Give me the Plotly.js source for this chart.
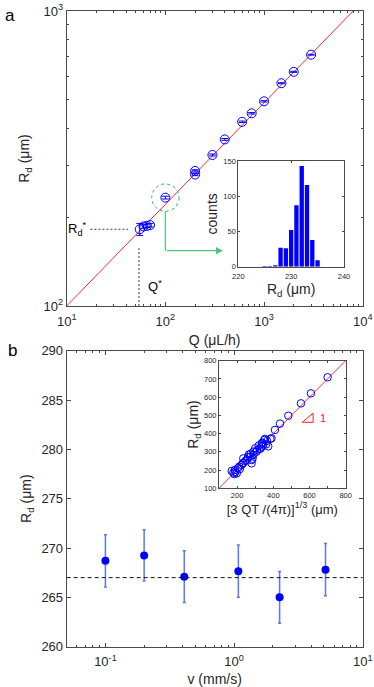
<!DOCTYPE html>
<html>
<head>
<meta charset="utf-8">
<script src="https://cdn.plot.ly/plotly-3.0.1.min.js"></script>
<style>
  body { margin: 0; background: #fff; }
  #chart { width: 374px; height: 687px; }
</style>
</head>
<body>
<div id="chart"></div>
<script>
// panel a: droplet radius vs flow rate
const flowQ = [55, 60, 65, 70, 100, 200, 200, 300, 400, 600, 750, 1000, 1500, 2000, 3000];
const radiusR = [182, 186, 187, 188, 233, 287, 279, 325, 367, 421, 450, 494, 569, 622, 711];
const radiusErr = [8.5, 2.5, 2.5, 2.5, 2.5, 2.5, 2.5, 2.5, 2.5, 2.5, 2.5, 2.5, 2.5, 2.5, 2.5];
const fitQ = [10, 8000];
const fitR = [100, 1000];
const qStar = 54;
const rStar = 182;

// panel a inset: histogram of R_d at Q = 100
const histBins = [225, 226, 227, 228, 229, 230, 231, 232, 233, 234, 235];
const histCounts = [1, 1, 2, 27, 26, 52, 87, 143, 116, 38, 9];

// panel b: R_d vs speed
const speedV = [0.1, 0.2, 0.41, 1.08, 2.26, 5.14];
const speedR = [268.7, 269.25, 267.1, 267.65, 265.0, 267.8];
const speedErr = [2.65, 2.6, 2.63, 2.65, 2.63, 2.65];
const meanR = 267;

// panel b inset: measured R_d vs volume-equivalent radius
const eqX = [700, 608, 553, 483, 437, 409, 384, 354, 360, 336, 323, 308, 290, 271, 253, 231, 212, 188, 179, 198,
  234, 280, 280, 290, 336, 372, 170, 300, 320, 340, 260, 245, 225, 205, 190, 185, 215, 235, 265, 275, 285, 310,
  330, 345, 350, 365, 390];
const eqR = [709, 621, 566, 498, 455, 420, 371, 371, 341, 329, 316, 301, 283, 274, 255, 237, 219, 201, 186, 182,
  264, 255, 237, 301, 347, 330, 195, 320, 335, 350, 270, 250, 228, 210, 190, 178, 205, 240, 285, 290, 262, 310,
  318, 340, 365, 360, 375];
const unitLineX = [100, 800];
const unitLineY = [100, 800];

const ink = '#262626';
const axisCol = '#4a4a4a';
const fontFam = '"Liberation Sans", Arial, sans-serif';

function logMinor(from, to) {
  let vals = [];
  for (let e = from; e < to; e++) {
    for (let k = 2; k <= 9; k++) vals.push(k * Math.pow(10, e));
  }
  return vals;
}

function sup(e) {
  return '10<sup>' + e + '</sup>';
}

function boxAxis(extra) {
  return Object.assign({
    showline: true, linecolor: axisCol, linewidth: 1, mirror: 'ticks',
    ticks: 'inside', ticklen: 4, tickcolor: axisCol, tickwidth: 1,
    showgrid: false, zeroline: false,
    tickfont: { size: 13, color: ink, family: fontFam }
  }, extra);
}

// green highlight ring around the Q = 100 point (radius in px, converted to data)
const ringPx = 13.7;
const ringQ = flowQ[4], ringR = radiusR[4];
const qPerPx = Math.pow(10, ringPx / 98.7);
const rPerPx = Math.pow(10, ringPx / 295);

let traces = [
  {
    x: fitQ, y: fitR, xaxis: 'x', yaxis: 'y', mode: 'lines',
    line: { color: '#ff2a2a', width: 1 }, hoverinfo: 'skip'
  },
  {
    x: flowQ, y: radiusR, xaxis: 'x', yaxis: 'y', mode: 'markers',
    marker: { symbol: 'circle-open', size: 9, color: '#0000ff', line: { width: 1, color: '#0000ff' } },
    error_y: { type: 'data', array: radiusErr, color: '#0000ff', thickness: 1, width: 3.5 }
  },
  {
    x: histBins, y: histCounts, xaxis: 'x2', yaxis: 'y2', type: 'bar',
    marker: { color: '#0000ff', line: { width: 0 } }
  },
  {
    x: speedV, y: speedR, xaxis: 'x3', yaxis: 'y3', mode: 'markers',
    marker: { symbol: 'circle', size: 8, color: '#0000ff' },
    error_y: { type: 'data', array: speedErr, color: 'rgba(40,70,255,0.75)', thickness: 1.5, width: 1.5 }
  },
  {
    x: unitLineX, y: unitLineY, xaxis: 'x4', yaxis: 'y4', mode: 'lines',
    line: { color: '#ff2a2a', width: 1 }, hoverinfo: 'skip'
  },
  {
    x: eqX, y: eqR, xaxis: 'x4', yaxis: 'y4', mode: 'markers',
    marker: { symbol: 'circle-open', size: 7.5, color: '#0000ff', line: { width: 1, color: '#0000ff' } }
  }
];

const insetTick = { size: 7.5, color: ink, family: fontFam };
const titleFont = { size: 14, color: ink };

let layout = {
  width: 374, height: 687,
  margin: { l: 0, r: 0, t: 0, b: 0 },
  paper_bgcolor: '#fff', plot_bgcolor: '#fff',
  showlegend: false,
  bargap: 0.18,
  font: { family: fontFam, color: ink },
  xaxis: boxAxis({
    type: 'log', range: [1, 4], domain: [0.1783, 0.9698], anchor: 'y',
    tickmode: 'array', tickvals: [10, 100, 1000, 10000], ticktext: [sup(1), sup(2), sup(3), sup(4)],
    ticklabelstandoff: 3,
    minor: { tickmode: 'array', tickvals: logMinor(1, 4), ticks: 'inside', ticklen: 2, tickcolor: axisCol },
    title: { text: 'Q (μL/h)', font: titleFont, standoff: 7 }
  }),
  yaxis: boxAxis({
    type: 'log', range: [2, 3], domain: [0.5546, 0.9840], anchor: 'x',
    tickmode: 'array', tickvals: [100, 1000], ticktext: [sup(2), sup(3)],
    minor: { tickmode: 'array', tickvals: logMinor(2, 3), ticks: 'inside', ticklen: 2, tickcolor: axisCol },
    title: { text: 'R<sub>d</sub> (μm)', font: titleFont, standoff: 10 }
  }),
  xaxis2: boxAxis({
    range: [220, 240], domain: [0.6372, 0.9198], anchor: 'y2', ticklen: 2,
    tickvals: [220, 230, 240], tickfont: insetTick, ticklabelstandoff: 2,
    title: { text: 'R<sub>d</sub> (μm)', font: titleFont, standoff: 2 }
  }),
  yaxis2: boxAxis({
    range: [0, 150], domain: [0.6118, 0.7657], anchor: 'x2', ticklen: 2,
    tickvals: [0, 50, 100, 150], tickfont: insetTick,
    title: { text: 'counts', font: titleFont, standoff: 2 }
  }),
  xaxis3: boxAxis({
    type: 'log', range: [Math.log10(0.05), 1], domain: [0.1783, 0.9698], anchor: 'y3',
    tickmode: 'array', tickvals: [0.1, 1, 10], ticktext: [sup('-1'), sup(0), sup(1)],
    ticklabelstandoff: 3,
    minor: { tickmode: 'array', tickvals: logMinor(-2, 1).filter(v => v > 0.05), ticks: 'inside', ticklen: 2, tickcolor: axisCol },
    title: { text: 'v (mm/s)', font: titleFont, standoff: 5 }
  }),
  yaxis3: boxAxis({
    range: [260, 290], domain: [0.0587, 0.4895], anchor: 'x3',
    tickvals: [260, 265, 270, 275, 280, 285, 290],
    title: { text: 'R<sub>d</sub> (μm)', font: titleFont, standoff: 6 }
  }),
  xaxis4: boxAxis({
    range: [100, 800], domain: [0.5856, 0.9243], anchor: 'y4', ticklen: 2,
    tickvals: [200, 400, 600, 800], tickfont: insetTick,
    minor: { tickmode: 'array', tickvals: [300, 500, 700], ticks: 'inside', ticklen: 2, tickcolor: axisCol },
    title: { text: '[3 QT /(4π)]<sup>1/3</sup> (μm)', font: { size: 13, color: ink }, standoff: 2 }
  }),
  yaxis4: boxAxis({
    range: [100, 800], domain: [0.2892, 0.4750], anchor: 'x4', ticklen: 2,
    tickvals: [100, 200, 300, 400, 500, 600, 700, 800], tickfont: insetTick,
    title: { text: 'R<sub>d</sub> (μm)', font: titleFont, standoff: 2 }
  }),
  shapes: [
    // R_d* and Q* guides
    { type: 'line', xref: 'x', yref: 'y', x0: 17.4, x1: 41.8, y0: rStar, y1: rStar,
      line: { color: '#333', width: 1, dash: '2px,2px' } },
    { type: 'line', xref: 'x', yref: 'y', x0: qStar, x1: qStar, y0: 100, y1: 157,
      line: { color: '#333', width: 1, dash: '2px,2px' } },
    // green highlight circle around Q = 100
    { type: 'circle', xref: 'x', yref: 'y',
      x0: ringQ / qPerPx, x1: ringQ * qPerPx, y0: ringR / rPerPx, y1: ringR * rPerPx,
      line: { color: '#2fb35f', width: 1, dash: 'dot' } },
    { type: 'line', xref: 'x', yref: 'y', x0: ringQ, x1: ringQ, y0: ringR / rPerPx, y1: 154,
      line: { color: '#4cc47c', width: 1.2 } },
    // mean line in panel b
    { type: 'line', xref: 'x3 domain', yref: 'y3', x0: 0, x1: 1, y0: meanR, y1: meanR,
      line: { color: '#111', width: 1, dash: '4px,3px' } },
    // slope triangle in inset b
    { type: 'path', xref: 'x4', yref: 'y4', path: 'M 560 462 L 620 462 L 620 512 Z',
      line: { color: '#ff2020', width: 1 } }
  ],
  annotations: [
    { text: 'a', xref: 'paper', yref: 'paper', x: 0.008, y: 0.978, xanchor: 'left', yanchor: 'middle',
      showarrow: false, font: { size: 17, color: '#000' } },
    { text: 'b', xref: 'paper', yref: 'paper', x: 0.016, y: 0.49, xanchor: 'left', yanchor: 'middle',
      showarrow: false, font: { size: 17, color: '#000' } },
    { text: 'R<sub>d</sub><sup>*</sup>', xref: 'x', yref: 'y', x: Math.log10(16.5), y: Math.log10(rStar),
      xanchor: 'right', yanchor: 'middle', showarrow: false, font: { size: 13, color: '#000' } },
    { text: 'Q<sup>*</sup>', xref: 'x', yref: 'y', x: Math.log10(63), y: Math.log10(117),
      xanchor: 'left', yanchor: 'middle', showarrow: false, font: { size: 13, color: '#000' } },
    { text: '', xref: 'x', yref: 'y', axref: 'x', ayref: 'y',
      x: Math.log10(385), y: Math.log10(154), ax: Math.log10(ringQ), ay: Math.log10(154),
      showarrow: true, arrowhead: 2, arrowsize: 1.2, arrowwidth: 1.2, arrowcolor: '#4cc47c', standoff: 0 },
    { text: '1', xref: 'x4', yref: 'y4', x: 672, y: 488, xanchor: 'center', yanchor: 'middle',
      showarrow: false, font: { size: 11, color: '#ff2020' } }
  ]
};

let config = { displayModeBar: false, staticPlot: true };

Plotly.newPlot('chart', traces, layout, config);
</script>
</body>
</html>
